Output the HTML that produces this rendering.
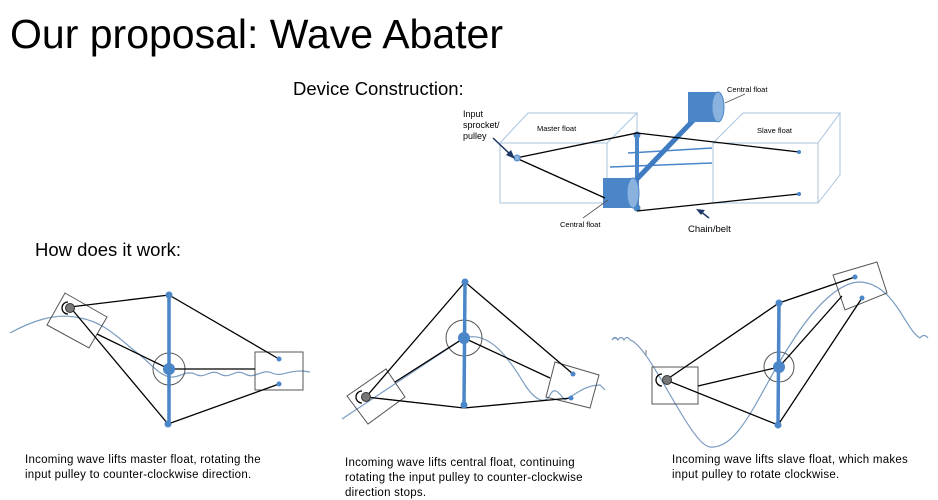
<!DOCTYPE html>
<html><head><meta charset="utf-8"><style>
html,body{margin:0;padding:0;background:#fff;}
svg{display:block;font-family:"Liberation Sans",Arial,sans-serif;}
.cap{font-size:11.5px;letter-spacing:0.25px;fill:#000;}
.k{stroke:#000;stroke-width:1.3;fill:none;}
.b{stroke:#4a86c8;stroke-width:3.5;}
.w{stroke:#7a9cc0;stroke-width:1.2;fill:none;}
.g{stroke:#555;stroke-width:1;fill:none;}
.d{fill:#4a86c8;}
.lb{stroke:#a9c4dd;stroke-width:1;fill:none;}
</style></head><body>
<svg width="938" height="500" viewBox="0 0 938 500">
<text x="10" y="48" font-size="41">Our proposal: Wave Abater</text>
<text x="293" y="95" font-size="18.5">Device Construction:</text>
<text x="35" y="256" font-size="18.5">How does it work:</text>

<!-- Device construction -->
<g>
<path class="lb" d="M500,143 H607 V203 H500 Z M500,143 L528,113 H637 L607,143 M637,113 V177 L607,203"/>
<path class="lb" d="M713,143 H818 V203 H713 Z M713,143 L743,113 H840 L818,143 M840,113 V175 L818,203"/>
<line x1="628" y1="153" x2="712" y2="148" stroke="#4a86c8" stroke-width="1.5"/>
<line x1="610" y1="167" x2="712" y2="163" stroke="#4a86c8" stroke-width="1.5"/>
<line x1="637" y1="135" x2="637" y2="208" stroke="#4a86c8" stroke-width="4"/>
<circle cx="637" cy="135" r="3.5" class="d"/><circle cx="637" cy="208" r="3.5" class="d"/>
<line x1="706" y1="107" x2="636" y2="180" stroke="#3f7bc0" stroke-width="5"/>
<rect x="688" y="92" width="30" height="30" fill="#4a86c8"/>
<ellipse cx="718" cy="107" rx="6" ry="15" fill="#8ab2de" stroke="#4a86c8"/>
<rect x="603" y="178" width="30" height="30" fill="#4a86c8"/>
<ellipse cx="633" cy="193" rx="6" ry="15" fill="#8ab2de" stroke="#4a86c8"/>
<path class="k" stroke-width="1" d="M516,158 L637,133 L799,152 M516,158 L605,198 M637,211 L799,194"/>
<circle cx="517" cy="158" r="3" fill="#8ab2de" stroke="#4a86c8"/>
<circle cx="799" cy="152" r="2" class="d"/><circle cx="799" cy="194" r="2" class="d"/>
<line x1="493" y1="138" x2="512" y2="156" stroke="#1f3864" stroke-width="1.5"/>
<polygon points="515,159 506,155 511,150" fill="#1f3864"/>
<line x1="709" y1="218" x2="700" y2="211" stroke="#1f3864" stroke-width="1.5"/>
<polygon points="696,209 705,210 701,215" fill="#1f3864"/>
<line x1="725" y1="103" x2="745" y2="94" stroke="#555" stroke-width="0.8"/>
<line x1="583" y1="218" x2="608" y2="200" stroke="#555" stroke-width="0.8"/>
<text x="727" y="92" font-size="7.5">Central float</text>
<text x="537" y="131" font-size="7.5">Master float</text>
<text x="757" y="133" font-size="7.5">Slave float</text>
<text x="463" y="117" font-size="9">Input</text>
<text x="463" y="128" font-size="9">sprocket/</text>
<text x="463" y="139" font-size="9">pulley</text>
<text x="560" y="227" font-size="7.5">Central float</text>
<text x="688" y="232" font-size="9.5">Chain/belt</text>
</g>

<!-- Diagram 1 -->
<g>
<path class="w" d="M10,333 C30,322 55,312 80,318 C105,322 120,340 140,355 C155,368 160,375 170,377 C180,378 185,370 195,374 C205,380 210,368 220,374 C230,380 235,368 245,374 C255,380 262,368 272,373 C282,378 290,368 310,372"/>
<polygon points="65,293 107,317 89,348 47,325" class="g"/>
<rect x="255" y="352" width="48" height="38" class="g"/>
<circle cx="169" cy="369" r="16" class="g"/>
<line x1="169" y1="295" x2="169" y2="424" class="b"/>
<path class="k" d="M70,307 L169,295 L279,359 M70,307 L168,424 L279,384 M97,334 L169,369 L255,369"/>
<circle cx="169" cy="295" r="3.5" class="d"/><circle cx="169" cy="369" r="6" class="d"/><circle cx="168" cy="424" r="3.5" class="d"/>
<circle cx="279" cy="359" r="2.5" class="d"/><circle cx="279" cy="384" r="2.5" class="d"/>
<circle cx="70" cy="308" r="4.5" fill="#777" stroke="#333"/>
<path d="M68,302 A6,6 0 0 0 68,314" class="k" stroke-width="1.5"/>
</g>

<!-- Diagram 2 -->
<g>
<path class="w" d="M342,419 L464,338 C490,330 510,360 525,385 C535,400 545,405 550,395 C555,385 560,395 565,400 C575,395 585,385 600,385 L605,390"/>
<path class="w" d="M612,340 q3,-4 6,0"/>
<polygon points="347,396 386,369 405,397 368,424" class="g"/>
<polygon points="555,362 599,375 590,408 546,397" class="g"/>
<circle cx="464" cy="338" r="18" class="g"/>
<line x1="465" y1="282" x2="464" y2="405" class="b"/>
<path class="k" d="M366,397 L465,282 L573,374 M366,397 L464,408 L571,398 M395,382 L464,338 L550,378"/>
<circle cx="465" cy="282" r="3.5" class="d"/><circle cx="464" cy="338" r="6" class="d"/><circle cx="464" cy="405" r="3.5" class="d"/>
<circle cx="573" cy="374" r="2.5" class="d"/><circle cx="571" cy="398" r="2.5" class="d"/>
<circle cx="366" cy="397" r="4.5" fill="#777" stroke="#333"/>
<path d="M362,391 A6,6 0 0 0 362,403" class="k" stroke-width="1.5"/>
</g>

<!-- Diagram 3 -->
<g>
<path class="w" d="M612,340 q3,-5 6,0 q3,-5 6,0 q3,-5 6,0 C650,345 690,445 710,447 C740,450 760,390 790,345 C815,305 840,282 860,282 C895,284 905,330 920,338 q4,-5 8,0"/>
<line x1="646" y1="350" x2="646" y2="355" stroke="#777"/>
<rect x="652" y="367" width="46" height="37" class="g"/>
<polygon points="833,275 877,262 887,293 845,310" class="g"/>
<circle cx="779" cy="367" r="15" class="g"/>
<line x1="779" y1="303" x2="778" y2="425" class="b"/>
<path class="k" d="M666,380 L779,303 L855,277 M698,386 L779,367 L842,296 M666,380 L778,425 L862,298"/>
<circle cx="779" cy="303" r="3.5" class="d"/><circle cx="779" cy="367" r="6" class="d"/><circle cx="778" cy="425" r="3.5" class="d"/>
<circle cx="855" cy="277" r="2.5" class="d"/><circle cx="862" cy="298" r="2.5" class="d"/>
<circle cx="667" cy="380" r="4.5" fill="#777" stroke="#333"/>
<path d="M662,374 A6,6 0 0 0 662,386" class="k" stroke-width="1.5"/>
</g>

<text class="cap" x="25" y="463">Incoming wave lifts master float, rotating the</text>
<text class="cap" x="25" y="478">input pulley to counter-clockwise direction.</text>
<text class="cap" x="345" y="466">Incoming wave lifts central float, continuing</text>
<text class="cap" x="345" y="481">rotating the input pulley to counter-clockwise</text>
<text class="cap" x="345" y="496">direction stops.</text>
<text class="cap" x="672" y="463">Incoming wave lifts slave float, which makes</text>
<text class="cap" x="672" y="478">input pulley to rotate clockwise.</text>
</svg>
</body></html>
